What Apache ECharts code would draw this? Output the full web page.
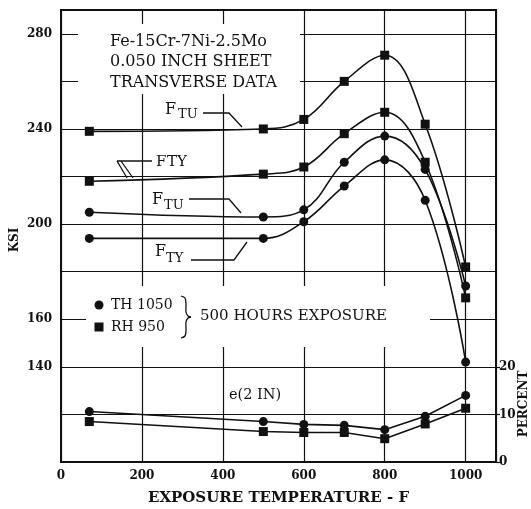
<!DOCTYPE html>
<html>
<head>
<meta charset="utf-8">
<script src="https://cdn.jsdelivr.net/npm/echarts@6/dist/echarts.min.js"></script>
<style>
html, body { margin: 0; padding: 0; background: #fff; }
#main { width: 531px; height: 509px; }
</style>
</head>
<body>
<div id="main"></div>
<script>
// exposure temperature, F
var temps = [70, 500, 600, 700, 800, 900, 1000];
// strength, KSI
var rhFtu = [239, 240, 244, 260, 271, 242, 182];
var rhFty = [218, 221, 224, 238, 247, 226, 169];
var thFtu = [205, 203, 206, 226, 237, 223, 174];
var thFty = [194, 194, 201, 216, 227, 210, 142];
// elongation e(2 IN), percent
var thElong = [10.6, 8.5, 7.9, 7.7, 6.8, 9.6, 14.0];
var rhElong = [8.5, 6.4, 6.2, 6.2, 4.9, 8.0, 11.3];
// tick labels
var xTicks = [0, 200, 400, 600, 800, 1000];
var ksiTicks = [140, 160, 200, 240, 280];
var pctTicks = [0, 10, 20];

var FONT = 'DejaVu Serif';
var INK = '#111';

function pairs(ys) {
	return temps.map(function (t, i) { return [t, ys[i]]; });
}

function curve(ys, symbol, axis, smooth) {
	return {
		type: 'line',
		yAxisIndex: axis,
		data: pairs(ys),
		symbol: symbol,
		symbolSize: 9,
		smooth: smooth,
		lineStyle: { color: INK, width: 1.6 },
		itemStyle: { color: INK },
		z: 3
	};
}

function txt(s, x, y, size, weight) {
	return { type: 'text', z: 5, x: x, y: y,
		style: { text: s, font: (weight ? weight + ' ' : '') + size + 'px ' + FONT,
			fill: INK, verticalAlign: 'middle', align: 'left' } };
}

function seg(points, smooth) {
	return { type: 'polyline', z: 5, shape: { points: points, smooth: smooth || 0 },
		style: { stroke: INK, lineWidth: 1.3, fill: null } };
}

var myChart = echarts.init(document.getElementById('main'));

var option = {
	animation: false,
	backgroundColor: '#fff',
	grid: { left: 61, right: 35, top: 10, bottom: 47, outerBoundsMode: 'none', containLabel: false,
		show: true, borderColor: INK, borderWidth: 2 },
	xAxis: {
		type: 'value',
		min: 0,
		max: 1075,
		interval: 200,
		name: 'EXPOSURE TEMPERATURE - F',
		nameLocation: 'middle',
		nameGap: 29,
		nameTextStyle: { color: INK, fontFamily: FONT, fontWeight: 'bold', fontSize: 15 },
		axisLine: { lineStyle: { color: INK, width: 2 } },
		axisTick: { show: false },
		axisLabel: { customValues: xTicks, formatter: function (v) { return String(v); },
			color: INK, fontFamily: FONT, fontWeight: 'bold', fontSize: 12, margin: 8 },
		splitLine: { show: true, lineStyle: { color: INK, width: 1.2 } }
	},
	yAxis: [
		{
			type: 'value',
			min: 100,
			max: 290,
			interval: 20,
			axisLine: { lineStyle: { color: INK, width: 2 } },
			axisTick: { show: false },
			axisLabel: { customValues: ksiTicks, color: INK, fontFamily: FONT, fontWeight: 'bold', fontSize: 12, margin: 9 },
			splitLine: { show: true, lineStyle: { color: INK, width: 1.2 } }
		},
		{
			type: 'value',
			position: 'right',
			min: 0,
			max: 95,
			interval: 10,
			axisLine: { show: true, lineStyle: { color: INK, width: 2 } },
			axisTick: { show: true, customValues: pctTicks, length: 4, lineStyle: { color: INK, width: 1.2 } },
			axisLabel: { customValues: pctTicks, color: INK, fontFamily: FONT, fontWeight: 'bold', fontSize: 12, margin: 3 },
			splitLine: { show: false }
		}
	],
	series: [
		curve(rhFtu, 'rect', 0, 0.4),
		curve(rhFty, 'rect', 0, 0.4),
		curve(thFtu, 'circle', 0, 0.4),
		curve(thFty, 'circle', 0, 0.4),
		curve(thElong, 'circle', 1, false),
		curve(rhElong, 'rect', 1, false)
	],
	graphic: [
		// white patches where the printed labels break the grid
		{ type: 'rect', z: 1, shape: { x: 78, y: 24, width: 222, height: 70 }, style: { fill: '#fff' } },
		{ type: 'rect', z: 1, shape: { x: 86, y: 286, width: 344, height: 61 }, style: { fill: '#fff' } },
		txt('Fe-15Cr-7Ni-2.5Mo', 110, 42, 16),
		txt('0.050 INCH SHEET', 110, 62, 16),
		txt('TRANSVERSE DATA', 110, 83, 16),
		// legend
		{ type: 'circle', z: 5, shape: { cx: 99, cy: 305, r: 4.5 }, style: { fill: INK } },
		{ type: 'rect', z: 5, shape: { x: 94.5, y: 322.5, width: 9, height: 9 }, style: { fill: INK } },
		txt('TH 1050', 111, 305, 14),
		txt('RH 950', 111, 327, 14),
		seg([[181, 296], [185, 298], [186, 304], [186, 312], [188, 316], [191, 317]], 0.3),
		seg([[191, 317], [188, 318], [186, 322], [186, 331], [185, 336], [181, 338]], 0.3),
		txt('500 HOURS EXPOSURE', 200, 316, 15),
		txt('e(2 IN)', 229, 395, 14.5),
		// curve labels
		txt('F', 165, 110, 16), txt('TU', 178, 115, 13), seg([[203, 113], [229, 113], [242, 127]]),
		txt('F', 156, 162, 15), txt('TY', 167, 162, 15), seg([[152, 161], [117, 161]]), seg([[117, 161], [127, 178]]), seg([[121, 161], [133, 178]]),
		txt('F', 152, 200, 16), txt('TU', 164, 206, 13), seg([[189, 199], [229, 199], [241, 213]]),
		txt('F', 155, 252, 16), txt('TY', 166, 259, 13), seg([[191, 260], [234, 260], [247, 242]]),
		// axis names drawn as text
		{ type: 'text', z: 5, x: 15, y: 240, rotation: Math.PI / 2,
			style: { text: 'KSI', font: 'bold 12px ' + FONT, fill: INK, align: 'center', verticalAlign: 'middle' } },
		{ type: 'text', z: 5, x: 524, y: 404, rotation: Math.PI / 2,
			style: { text: 'PERCENT', font: 'bold 12px ' + FONT, fill: INK, align: 'center', verticalAlign: 'middle' } }
	]
};

myChart.setOption(option);
</script>
</body>
</html>
